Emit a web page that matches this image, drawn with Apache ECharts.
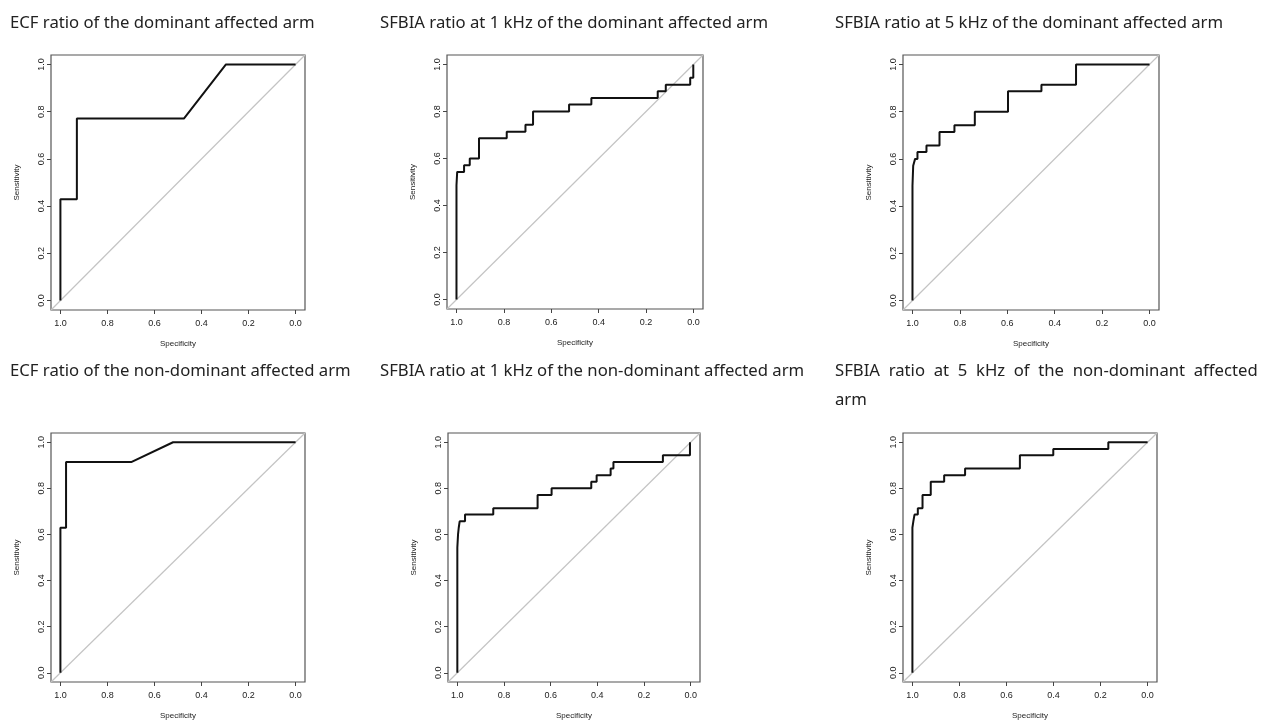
<!DOCTYPE html>
<html>
<head>
<meta charset="utf-8">
<title>ROC curves</title>
<script src="https://cdn.jsdelivr.net/npm/echarts@6.0.0/dist/echarts.min.js"></script>
<style>
  html, body { margin: 0; padding: 0; background: #fff; }
  #chart { width: 1274px; height: 721px; }
</style>
</head>
<body>
<div id="chart"></div>
<script>
  // panel titles
  const titles = [
    'ECF ratio of the dominant affected arm',
    'SFBIA ratio at 1 kHz of the dominant affected arm',
    'SFBIA ratio at 5 kHz of the dominant affected arm',
    'ECF ratio of the non-dominant affected arm',
    'SFBIA ratio at 1 kHz of the non-dominant affected arm',
    'SFBIA  ratio  at  5  kHz  of  the  non-dominant  affected\narm'
  ]

  const tickValues = [0, 0.2, 0.4, 0.6, 0.8, 1.0]

  // ECF, dominant arm
  const ecfDomSpec = [1, 1, 1, 0.93, 0.93, 0.475, 0.296, 0]
  const ecfDomSens = [0, 0.2, 0.429, 0.429, 0.771, 0.771, 1, 1]

  // SFBIA 1 kHz, dominant arm
  const sf1DomSpec = [1, 1, 0.997, 0.997, 0.968, 0.968, 0.944, 0.944, 0.905, 0.905, 0.788, 0.788, 0.709, 0.709,
    0.677, 0.677, 0.525, 0.525, 0.431, 0.431, 0.151, 0.151, 0.117, 0.117, 0.014, 0.014, 0.001, 0.001]
  const sf1DomSens = [0, 0.486, 0.486, 0.543, 0.543, 0.571, 0.571, 0.6, 0.6, 0.686, 0.686, 0.714, 0.714, 0.743,
    0.743, 0.8, 0.8, 0.829, 0.829, 0.857, 0.857, 0.886, 0.886, 0.914, 0.914, 0.943, 0.943, 1]

  // SFBIA 5 kHz, dominant arm
  const sf5DomSpec = [1, 1, 0.997, 0.997, 0.989, 0.989, 0.979, 0.979, 0.941, 0.941, 0.886, 0.886, 0.823, 0.823,
    0.737, 0.737, 0.597, 0.597, 0.456, 0.456, 0.31, 0.31, 0]
  const sf5DomSens = [0, 0.486, 0.486, 0.571, 0.571, 0.6, 0.6, 0.629, 0.629, 0.657, 0.657, 0.714, 0.714, 0.743,
    0.743, 0.8, 0.8, 0.886, 0.886, 0.914, 0.914, 1, 1]

  // ECF, non-dominant arm
  const ecfNonSpec = [1, 1, 0.976, 0.976, 0.699, 0.521, 0]
  const ecfNonSens = [0, 0.629, 0.629, 0.914, 0.914, 1, 1]

  // SFBIA 1 kHz, non-dominant arm
  const sf1NonSpec = [1, 1, 0.997, 0.994, 0.99, 0.967, 0.967, 0.846, 0.846, 0.656, 0.656, 0.596, 0.596, 0.426,
    0.426, 0.403, 0.403, 0.343, 0.343, 0.331, 0.331, 0.119, 0.119, 0.003, 0.003]
  const sf1NonSens = [0, 0.543, 0.6, 0.629, 0.657, 0.657, 0.686, 0.686, 0.714, 0.714, 0.771, 0.771, 0.8, 0.8,
    0.829, 0.829, 0.857, 0.857, 0.886, 0.886, 0.914, 0.914, 0.943, 0.943, 1]

  // SFBIA 5 kHz, non-dominant arm
  const sf5NonSpec = [1, 1, 0.996, 0.996, 0.991, 0.991, 0.977, 0.977, 0.957, 0.957, 0.922, 0.922, 0.865, 0.865,
    0.776, 0.776, 0.543, 0.543, 0.401, 0.401, 0.167, 0.167, 0]
  const sf5NonSens = [0, 0.629, 0.629, 0.657, 0.657, 0.686, 0.686, 0.714, 0.714, 0.771, 0.771, 0.829, 0.829,
    0.857, 0.857, 0.886, 0.886, 0.943, 0.943, 0.971, 0.971, 1, 1]

  // chance line, corner to corner of the plot box
  const diagSpec = [1.04, -0.04]
  const diagSens = [-0.04, 1.04]

  const curves = [
    [ecfDomSpec, ecfDomSens],
    [sf1DomSpec, sf1DomSens],
    [sf5DomSpec, sf5DomSens],
    [ecfNonSpec, ecfNonSens],
    [sf1NonSpec, sf1NonSens],
    [sf5NonSpec, sf5NonSens]
  ]

  // plot boxes
  const boxes = [
    {left: 51, top: 55, width: 254, height: 255},
    {left: 447, top: 55, width: 256, height: 254},
    {left: 903, top: 55, width: 256, height: 255},
    {left: 51, top: 433, width: 254, height: 255},
    {left: 448, top: 433, width: 252, height: 252},
    {left: 903, top: 433, width: 254, height: 253}
  ]
  const titlePos = [
    {left: 10, top: 9}, {left: 380, top: 9}, {left: 835, top: 9},
    {left: 10, top: 357}, {left: 380, top: 357}, {left: 835, top: 357}
  ]

  const zip = (a, b) => a.map((v, i) => [v, b[i]])

  const chart = echarts.init(document.getElementById('chart'))

  const tickLabel = {
    customValues: tickValues,
    fontFamily: 'Liberation Sans',
    fontSize: 9,
    color: '#222',
    formatter: v => v.toFixed(1)
  }

  chart.setOption({
    animation: false,
    title: titles.map((t, i) => ({
      text: t,
      left: titlePos[i].left,
      top: titlePos[i].top,
      padding: 0,
      textStyle: {
        fontFamily: 'Noto Sans',
        fontSize: 16.7,
        fontWeight: 'normal',
        color: '#222',
        lineHeight: 29
      }
    })),
    grid: boxes.map(b => ({
      left: b.left,
      top: b.top,
      width: b.width,
      height: b.height,
      show: true,
      borderColor: '#555',
      borderWidth: 1.2,
      backgroundColor: 'transparent'
    })),
    xAxis: boxes.map((b, i) => ({
      gridIndex: i,
      type: 'value',
      inverse: true,
      min: -0.04,
      max: 1.04,
      name: 'Specificity',
      nameLocation: 'middle',
      nameGap: 30,
      nameTextStyle: {fontFamily: 'Liberation Sans', fontSize: 8, color: '#222'},
      axisLine: {show: false, onZero: false},
      axisTick: {show: true, customValues: tickValues, length: 4, lineStyle: {color: '#444'}},
      axisLabel: Object.assign({margin: 9}, tickLabel),
      splitLine: {show: false}
    })),
    yAxis: boxes.map((b, i) => ({
      gridIndex: i,
      type: 'value',
      min: -0.04,
      max: 1.04,
      name: 'Sensitivity',
      nameLocation: 'middle',
      nameGap: 30,
      nameTextStyle: {fontFamily: 'Liberation Sans', fontSize: 8, color: '#222'},
      axisLine: {show: false, onZero: false},
      axisTick: {show: true, customValues: tickValues, length: 4, lineStyle: {color: '#444'}},
      axisLabel: Object.assign({margin: 5, rotate: 90}, tickLabel),
      splitLine: {show: false}
    })),
    series: [].concat(...curves.map((c, i) => [
      {
        type: 'line',
        xAxisIndex: i,
        yAxisIndex: i,
        data: zip(diagSpec, diagSens),
        symbol: 'none',
        silent: true,
        lineStyle: {color: '#c4c4c4', width: 1.2}
      },
      {
        type: 'line',
        xAxisIndex: i,
        yAxisIndex: i,
        data: zip(c[0], c[1]),
        symbol: 'none',
        lineStyle: {color: '#111', width: 2}
      }
    ]))
  })
</script>
</body>
</html>
